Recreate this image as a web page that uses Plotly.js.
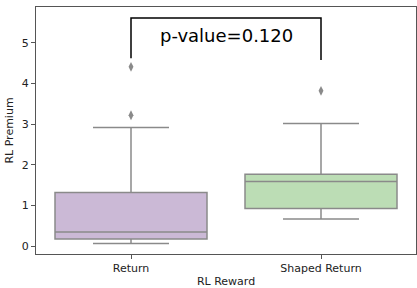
<!DOCTYPE html>
<html>
<head>
<meta charset="utf-8">
<script src="https://cdn.plot.ly/plotly-3.0.1.min.js"></script>
<style>html,body{margin:0;padding:0;background:#fff;}#chart{width:417px;height:288px;}</style>
</head>
<body>
<div id="chart"></div>
<script>
// Data
const categories = ["Return", "Shaped Return"];
const q1Values = [0.18, 0.93];
const medianValues = [0.35, 1.59];
const q3Values = [1.32, 1.77];
const lowerWhiskers = [0.07, 0.67];
const upperWhiskers = [2.92, 3.02];
const outlierCategories = ["Return", "Return", "Shaped Return"];
const outlierValues = [4.41, 3.22, 3.82];
const pValueText = "p-value=0.120";
const bracketLeftBottom = 4.62;
const bracketRightBottom = 4.58;
const bracketTop = 5.61;

const fillColors = ["rgb(203,185,214)", "rgb(188,221,181)"];
const lineGray = "rgb(138,138,138)";
const font = "DejaVu Sans, Liberation Sans, sans-serif";

const traces = categories.map((c, i) => ({
  type: "box",
  x: [c],
  q1: [q1Values[i]],
  median: [medianValues[i]],
  q3: [q3Values[i]],
  lowerfence: [lowerWhiskers[i]],
  upperfence: [upperWhiskers[i]],
  fillcolor: fillColors[i],
  line: {color: lineGray, width: 1.5},
  width: 0.8,
  whiskerwidth: 0.5,
  boxpoints: false,
  hoverinfo: "skip",
  showlegend: false
}));

traces.push({
  type: "scatter",
  mode: "markers",
  x: outlierCategories,
  y: outlierValues,
  marker: {symbol: "diamond-tall", size: 7, color: lineGray},
  showlegend: false,
  hoverinfo: "skip"
});

const layout = {
  width: 417, height: 288,
  margin: {l: 36, r: 1, t: 7, b: 34},
  paper_bgcolor: "#fff",
  plot_bgcolor: "#fff",
  font: {family: font, size: 11, color: "#222"},
  xaxis: {
    type: "category",
    range: [-0.5, 1.5],
    showgrid: false, zeroline: false,
    showline: true, mirror: true, linecolor: "#555", linewidth: 1,
    ticks: "outside", ticklen: 4, tickcolor: "#555",
    tickfont: {size: 11, family: font, color: "#222"},
    title: {text: "RL Reward", font: {size: 11, family: font, color: "#222"}, standoff: 6}
  },
  yaxis: {
    range: [-0.19, 5.88],
    tickvals: [0, 1, 2, 3, 4, 5],
    showgrid: false, zeroline: false,
    showline: true, mirror: true, linecolor: "#555", linewidth: 1,
    ticks: "outside", ticklen: 4, tickcolor: "#555",
    tickfont: {size: 11, family: font, color: "#222"},
    title: {text: "RL Premium", font: {size: 11, family: font, color: "#222"}, standoff: 5}
  },
  shapes: [
    {type: "path", xref: "x", yref: "y",
     path: "M 0," + bracketLeftBottom + " L 0," + bracketTop + " L 1," + bracketTop + " L 1," + bracketRightBottom,
     line: {color: "#000", width: 1.5}}
  ],
  annotations: [
    {x: 0.5, y: bracketTop, xref: "x", yref: "y", text: pValueText, showarrow: false,
     yanchor: "top", yshift: -5, font: {size: 18, family: font, color: "#000"}}
  ]
};

Plotly.newPlot("chart", traces, layout, {displayModeBar: false, staticPlot: true});
</script>
</body>
</html>
